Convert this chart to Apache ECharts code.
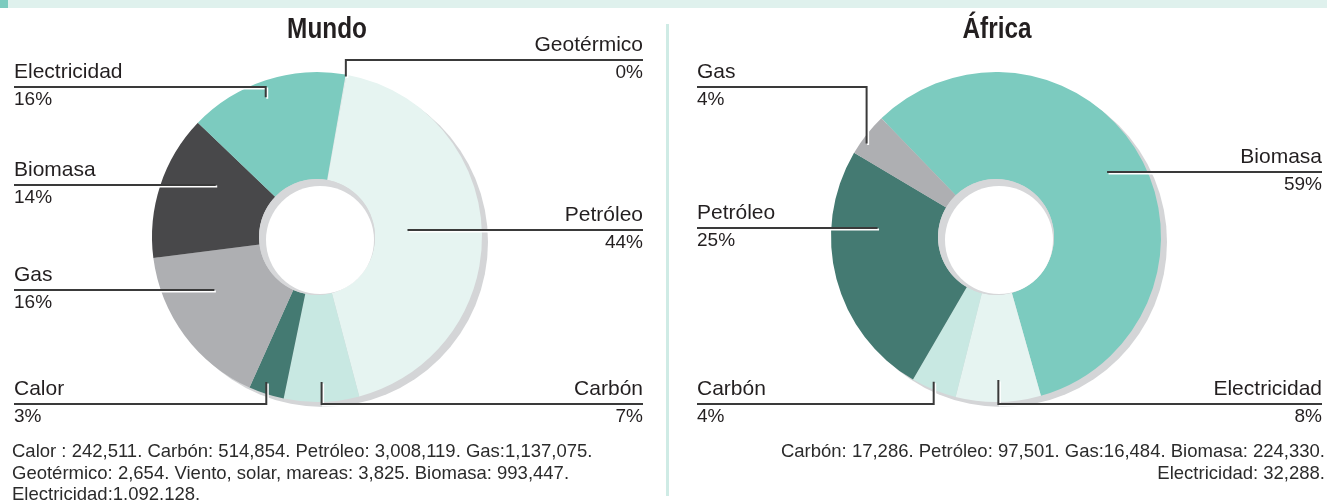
<!DOCTYPE html>
<html>
<head>
<meta charset="utf-8">
<script src="https://cdn.jsdelivr.net/npm/echarts@6/dist/echarts.min.js"></script>
<style>
  html, body { margin: 0; padding: 0; background: #fff; }
  #chart { width: 1327px; height: 503px; }
</style>
</head>
<body>
<div id="chart"></div>
<script>
// Mundo, en orden horario desde arriba
const mundoNames = ["Geotérmico", "Viento, solar, mareas", "Petróleo", "Carbón", "Calor", "Gas", "Biomasa", "Electricidad"];
const mundoValues = [2654, 3825, 3008119, 514854, 242511, 1137075, 993447, 1092128];
const mundoPct = ["0%", "", "44%", "7%", "3%", "16%", "14%", "16%"];

// África
const africaNames = ["Biomasa", "Electricidad", "Carbón", "Petróleo", "Gas"];
const africaValues = [224330, 32288, 17286, 97501, 16484];
const africaPct = ["59%", "8%", "4%", "25%", "4%"];

const mundoNote = [
  "Calor : 242,511. Carbón: 514,854. Petróleo: 3,008,119. Gas:1,137,075.",
  "Geotérmico: 2,654. Viento, solar, mareas: 3,825. Biomasa: 993,447.",
  "Electricidad:1.092.128."
];
const africaNote = [
  "Carbón: 17,286. Petróleo: 97,501. Gas:16,484. Biomasa: 224,330.",
  "Electricidad: 32,288."
];

const FONT = "'Liberation Sans', Arial, sans-serif";
const R = 165, RIN = 58;
const mundoC = [317, 237], africaC = [996, 237];

const colors = {
  "Mundo": {
    "Geotérmico": "#e6f4f1", "Viento, solar, mareas": "#e6f4f1", "Petróleo": "#e6f4f1",
    "Carbón": "#c8e8e2", "Calor": "#447a72", "Gas": "#aeafb2",
    "Biomasa": "#48484a", "Electricidad": "#7ccbbf"
  },
  "África": {
    "Biomasa": "#7ccbbf", "Electricidad": "#e6f4f1", "Carbón": "#c8e8e2",
    "Petróleo": "#447a72", "Gas": "#aeafb2"
  }
};

// como se colocan las etiquetas (lado, altura de la raya, tipo de guia)
const mundoLab = {
  "Geotérmico": { side: "r", y: 60, kind: "v", inset: 2 },
  "Petróleo": { side: "r", y: 230, kind: "h", reach: 0.55 },
  "Carbón": { side: "r", y: 404, kind: "v", inset: 20 },
  "Calor": { side: "l", y: 404, kind: "v", inset: 12 },
  "Gas": { side: "l", y: 290, kind: "h", reach: 0.7 },
  "Biomasa": { side: "l", y: 185, kind: "h", reach: 0.69 },
  "Electricidad": { side: "l", y: 87, kind: "v", inset: 17 }
};
const africaLab = {
  "Gas": { side: "l", y: 87, kind: "v", inset: 9 },
  "Biomasa": { side: "r", y: 172, kind: "h", reach: 0.78 },
  "Petróleo": { side: "l", y: 228, kind: "h", reach: 0.72 },
  "Carbón": { side: "l", y: 404, kind: "v", inset: 8 },
  "Electricidad": { side: "r", y: 404, kind: "v", inset: 22 }
};

function layoutFor(names, cfg, c, leftX, rightX) {
  return function (p) {
    const o = cfg[names[p.dataIndex]];
    if (!o || !p.labelLinePoints) return {};
    const edgeX = o.side === "l" ? leftX : rightX;
    let pts;
    if (o.kind === "v") {
      const q = p.labelLinePoints[0];
      const ay = q[1] + (q[1] < c[1] ? o.inset : -o.inset);
      pts = [[q[0], ay], [q[0], o.y], [edgeX, o.y]];
    } else {
      const dy = o.y - c[1];
      const rr = o.reach * R;
      const dx = Math.sqrt(rr * rr - dy * dy);
      const ax = c[0] + (o.side === "l" ? -dx : dx);
      pts = [[ax, o.y], [ax, o.y], [edgeX, o.y]];
    }
    return {
      x: edgeX, y: o.y - 1,
      align: o.side === "l" ? "left" : "right",
      verticalAlign: "middle",
      labelLinePoints: pts
    };
  };
}

function donut(title, c, names, values, pct, lab, startAngle, leftX, rightX) {
  const base = { type: "pie", silent: true, animation: false, center: c, startAngle: startAngle, clockwise: true };
  const shadow = {
    type: "pie", silent: true, animation: false,
    center: [c[0] + 6, c[1] + 5], radius: [0, R],
    label: { show: false }, labelLine: { show: false },
    data: [{ value: 1, itemStyle: { color: "#d4d5d7" } }]
  };
  const main = Object.assign({}, base, {
    name: title, radius: [RIN, R],
    label: { show: false }, labelLine: { show: false },
    data: names.map((n, i) => ({ name: n, value: values[i], itemStyle: { color: colors[title][n] } }))
  });
  // misma serie, transparente, solo para etiquetas y guias por encima
  const labels = Object.assign({}, base, {
    name: title + " etiquetas", radius: [RIN, R], z: 6,
    avoidLabelOverlap: false,
    itemStyle: { color: "rgba(0,0,0,0)" },
    label: {
      show: true, position: "outside",
      formatter: (p) => "{n|" + p.name + "}\n{p|" + pct[p.dataIndex] + "}",
      rich: {
        n: { fontFamily: FONT, fontSize: 21, lineHeight: 27, color: "#231f20" },
        p: { fontFamily: FONT, fontSize: 19, lineHeight: 27, color: "#231f20" }
      }
    },
    labelLine: {
      show: true,
      lineStyle: { color: "#3a3a3a", width: 2, shadowColor: "#ffffff", shadowOffsetX: 1.5, shadowOffsetY: 1.5, shadowBlur: 0 }
    },
    labelLayout: layoutFor(names, lab, c, leftX, rightX),
    data: names.map((n, i) => {
      const d = { name: n, value: values[i] };
      if (!lab[n]) {
        d.label = { show: false };
        d.labelLine = { show: false };
      }
      return d;
    })
  });
  const holeShade = {
    type: "pie", silent: true, animation: false,
    center: c, radius: [0, RIN],
    label: { show: false }, labelLine: { show: false },
    data: [{ value: 1, itemStyle: { color: "#d6d7d9" } }]
  };
  const hole = {
    type: "pie", silent: true, animation: false,
    center: [c[0] + 3, c[1] + 3], radius: [0, RIN - 4],
    label: { show: false }, labelLine: { show: false },
    data: [{ value: 1, itemStyle: { color: "#ffffff" } }]
  };
  return [shadow, main, holeShade, hole, labels];
}

const chart = echarts.init(document.getElementById("chart"));

const graphic = [
  { type: "rect", shape: { x: 0, y: 0, width: 1327, height: 8 }, style: { fill: "#dff1ed" } },
  { type: "rect", shape: { x: 0, y: 0, width: 8, height: 8 }, style: { fill: "#7ccbbf" } },
  { type: "rect", shape: { x: 666, y: 24, width: 3, height: 472 }, style: { fill: "#cfebe5" } },
  { type: "text", x: 327, y: 30, scaleX: 0.84, style: { text: "Mundo", font: "bold 29px " + FONT, fill: "#231f20", align: "center", verticalAlign: "middle" } },
  { type: "text", x: 997, y: 30, scaleX: 0.84, style: { text: "África", font: "bold 29px " + FONT, fill: "#231f20", align: "center", verticalAlign: "middle" } }
];
mundoNote.forEach((t, i) => {
  graphic.push({ type: "text", x: 12, y: 452 + i * 21.5, style: { text: t, font: "18.5px " + FONT, fill: "#2b2b2b", align: "left", verticalAlign: "middle" } });
});
africaNote.forEach((t, i) => {
  graphic.push({ type: "text", x: 1325, y: 452 + i * 21.5, style: { text: t, font: "18.5px " + FONT, fill: "#2b2b2b", align: "right", verticalAlign: "middle" } });
});

chart.setOption({
  backgroundColor: "#ffffff",
  animation: false,
  graphic: graphic,
  series: [].concat(
    donut("Mundo", mundoC, mundoNames, mundoValues, mundoPct, mundoLab, 80, 14, 643),
    donut("África", africaC, africaNames, africaValues, africaPct, africaLab, 134, 697, 1322)
  )
});
</script>
</body>
</html>
